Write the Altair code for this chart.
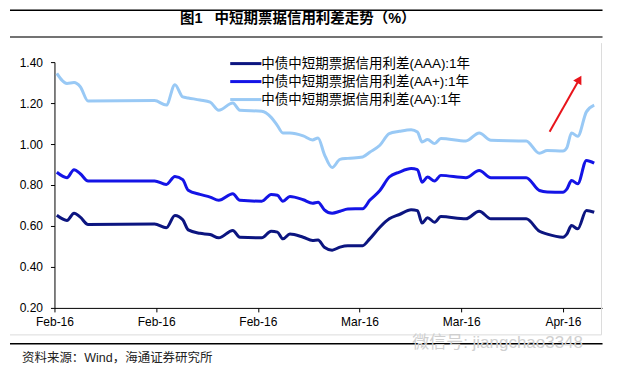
import altair as alt
import pandas as pd

# ---- data ----
days = [0.3, 1.6, 2.5, 3.3, 4.3, 12.8, 14.3, 15.4, 16.4, 17.1,
        18.6, 19.9, 21.0, 22.8, 23.7, 26.5, 27.7, 28.5, 29.2, 30.1,
        31.8, 33.0, 33.7, 34.5, 35.5, 36.5, 37.5, 39.4, 40.3, 41.6,
        42.8, 44.1, 45.6, 46.4, 47.0, 47.7, 48.6, 49.4, 52.6, 54.3,
        55.8, 60.3, 62.0, 63.0, 65.0, 65.5, 66.1, 66.9, 68.0, 69.0]

aaa = [0.652, 0.627, 0.662, 0.643, 0.607, 0.610, 0.591, 0.651, 0.630, 0.581,
       0.564, 0.558, 0.542, 0.578, 0.545, 0.542, 0.574, 0.570, 0.537, 0.561,
       0.545, 0.529, 0.532, 0.496, 0.482, 0.497, 0.504, 0.504, 0.537, 0.594,
       0.635, 0.656, 0.679, 0.675, 0.614, 0.640, 0.618, 0.646, 0.635, 0.672,
       0.635, 0.635, 0.574, 0.560, 0.545, 0.560, 0.602, 0.586, 0.676, 0.667]

aa_plus = [0.862, 0.836, 0.875, 0.855, 0.819, 0.820, 0.803, 0.842, 0.826, 0.774,
           0.754, 0.741, 0.725, 0.757, 0.725, 0.721, 0.754, 0.750, 0.721, 0.744,
           0.728, 0.711, 0.716, 0.679, 0.662, 0.672, 0.683, 0.684, 0.725, 0.773,
           0.839, 0.863, 0.880, 0.875, 0.814, 0.839, 0.819, 0.847, 0.836, 0.871,
           0.836, 0.836, 0.773, 0.766, 0.765, 0.780, 0.822, 0.806, 0.920, 0.907]

aa = [1.345, 1.296, 1.300, 1.280, 1.210, 1.212, 1.190, 1.290, 1.230, 1.225,
      1.215, 1.205, 1.165, 1.200, 1.165, 1.160, 1.130, 1.090, 1.054, 1.054,
      1.040, 1.020, 1.030, 0.950, 0.885, 0.925, 0.930, 0.937, 0.960, 0.994,
      1.051, 1.062, 1.070, 1.059, 1.010, 1.022, 1.002, 1.027, 1.015, 1.054,
      1.018, 1.015, 0.955, 0.968, 0.966, 0.982, 1.054, 1.038, 1.157, 1.190]

series_names = ["中债中短期票据信用利差(AAA):1年",
                "中债中短期票据信用利差(AA+):1年",
                "中债中短期票据信用利差(AA):1年"]
series_colors = ["#0c1580", "#1414e6", "#99c9f5"]

x_tick_days = [0, 13, 26, 39, 52, 65]
x_tick_labels = ["Feb-16", "Feb-16", "Feb-16", "Mar-16", "Mar-16", "Apr-16"]
y_ticks = [0.2, 0.4, 0.6, 0.8, 1.0, 1.2, 1.4]

arrow_days = [63.3, 67.1]
arrow_vals = [1.06, 1.316]

title_text = "图1\u00a0\u00a0\u00a0中短期票据信用利差走势（%）"
source_text = "资料来源：Wind，海通证券研究所"
watermark_text = "微信号: jiangchao3348"

# ---- build table ----
rows = []
for name, vals in zip(series_names, [aaa, aa_plus, aa]):
    for d, v in zip(days, vals):
        rows.append({"day": d, "value": v, "series": name})
df = pd.DataFrame(rows)

W, H = 548, 246
FONT = "Liberation Sans, Noto Sans CJK SC"

label_expr = "{" + ",".join(f"'{d}':'{l}'" for d, l in zip(x_tick_days, x_tick_labels)) + "}[datum.value]"

lines = alt.Chart(df).mark_line(strokeWidth=3, interpolate="monotone").encode(
    x=alt.X("day:Q", scale=alt.Scale(domain=[0, 70], nice=False, zero=False),
            axis=alt.Axis(values=x_tick_days, labelExpr=label_expr, title=None,
                          tickSize=4, labelPadding=5, labelFlush=False,
                          domainColor="#000", tickColor="#000")),
    y=alt.Y("value:Q", scale=alt.Scale(domain=[0.2, 1.4], nice=False, zero=False),
            axis=alt.Axis(values=y_ticks, format=".2f", title=None, tickSize=4,
                          labelPadding=8, domainColor="#000", tickColor="#000")),
    color=alt.Color("series:N",
                    scale=alt.Scale(domain=series_names, range=series_colors),
                    legend=alt.Legend(title=None, orient="none", legendX=180, legendY=-10,
                                      symbolType="M-1.6,0H1.6", symbolSize=380,
                                      symbolStrokeWidth=3, labelFont=FONT,
                                      labelFontSize=13.5, labelColor="#000", labelLimit=0,
                                      rowPadding=0, labelOffset=4)),
    order=alt.Order("day:Q"),
)

arrow_df = pd.DataFrame({"day": arrow_days, "value": arrow_vals})
arrow_line = alt.Chart(arrow_df).mark_line(color="#e8141b", strokeWidth=2).encode(
    x="day:Q", y="value:Q")
arrow_head = alt.Chart(arrow_df.iloc[[1]]).mark_point(
    shape="triangle-up", filled=True, color="#e8141b", size=90, angle=30, opacity=1
).encode(x="day:Q", y="value:Q")

one = pd.DataFrame({"t": [0]})

def hrule(y, x1, x2, color, w):
    return alt.Chart(one).mark_rule(color=color, strokeWidth=w).encode(
        x=alt.value(x1), x2=alt.value(x2), y=alt.value(y))

def vrule(x, y1, y2, color, w):
    return alt.Chart(one).mark_rule(color=color, strokeWidth=w).encode(
        x=alt.value(x), y=alt.value(y1), y2=alt.value(y2))

top_rule = hrule(-52, -44.5, 548.5, "#000", 1.5)
top_rule2 = hrule(-25, -44.5, 548.5, "#444", 1.5)
frame_bottom = hrule(273, -44.5, 547.5, "#dcdcdc", 1)
frame_right = vrule(547.5, -19, 273, "#dcdcdc", 1)
bottom_rule = hrule(282, -44.5, 548.5, "#000", 1.5)

title = alt.Chart(pd.DataFrame({"t": [title_text]})).mark_text(
    font=FONT, fontSize=14.5, fontWeight="bold", color="#000", align="center", baseline="middle"
).encode(text="t:N", x=alt.value(243.5), y=alt.value(-43))

source = alt.Chart(pd.DataFrame({"t": [source_text]})).mark_text(
    font=FONT, fontSize=12.5, color="#222", align="left", baseline="middle"
).encode(text="t:N", x=alt.value(-32.5), y=alt.value(296))

watermark = alt.Chart(pd.DataFrame({"t": [watermark_text]})).mark_text(
    font=FONT, fontSize=17, color="#cfcfcf", align="center", baseline="middle"
).encode(text="t:N", x=alt.value(443.5), y=alt.value(281))

chart = alt.layer(
    frame_bottom, frame_right, top_rule, top_rule2, bottom_rule, watermark,
    lines, arrow_line, arrow_head, title, source
).properties(
    width=W, height=H,
    autosize=alt.AutoSizeParams(type="none"),
    padding={"left": 46.5, "top": 54, "right": 30, "bottom": 57},
).configure_view(stroke=None).configure_axis(
    grid=False, labelFont=FONT, labelFontSize=12, labelColor="#000", domainWidth=1
)

chart.save("out.html", embed_options={"renderer": "svg", "actions": False})
